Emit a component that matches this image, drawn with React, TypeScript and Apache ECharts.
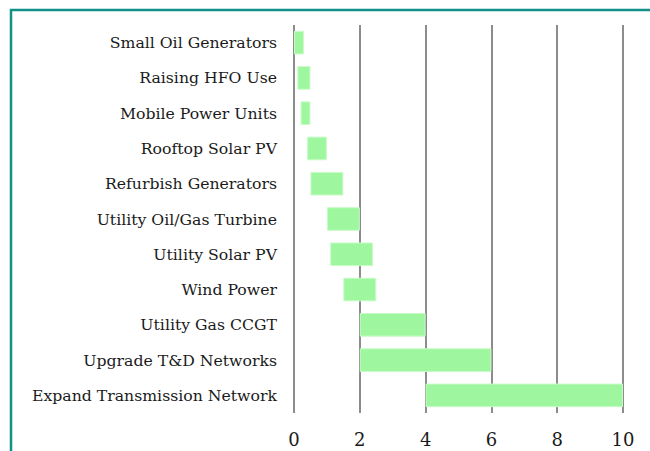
import React, { useEffect, useRef } from "react";
import * as echarts from "echarts";

const categories = [
  "Small Oil Generators",
  "Raising HFO Use",
  "Mobile Power Units",
  "Rooftop Solar PV",
  "Refurbish Generators",
  "Utility Oil/Gas Turbine",
  "Utility Solar PV",
  "Wind Power",
  "Utility Gas CCGT",
  "Upgrade T&D Networks",
  "Expand Transmission Network",
];
const lowValues = [0, 0.1, 0.2, 0.4, 0.5, 1.0, 1.1, 1.5, 2, 2, 4];
const highValues = [0.3, 0.5, 0.5, 1.0, 1.5, 2.0, 2.4, 2.5, 4, 6, 10];
const xTicks = [0, 2, 4, 6, 8, 10];

const FONT = "'DejaVu Serif', serif";

export default function App() {
  const ref = useRef<HTMLDivElement>(null);
  useEffect(() => {
    if (!ref.current) return;
    const chart = echarts.init(ref.current, null, { renderer: "svg" });
    chart.setOption({
      animation: false,
      grid: { left: 294, right: 27, top: 25, bottom: 38, containLabel: false },
      graphic: [
        {
          type: "rect",
          shape: { x: 11, y: 10, width: 700, height: 500 },
          style: { fill: "none", stroke: "#12918a", lineWidth: 2.5 },
          silent: true,
        },
      ],
      xAxis: {
        type: "value",
        min: xTicks[0],
        max: xTicks[xTicks.length - 1],
        interval: 2,
        axisLine: { show: false },
        axisTick: { show: false },
        splitLine: { show: true, lineStyle: { color: "#8c8c8c", width: 2 } },
        axisLabel: {
          fontFamily: FONT,
          fontSize: 18,
          color: "#1a1a1a",
          margin: 17,
        },
      },
      yAxis: {
        type: "category",
        data: categories,
        inverse: true,
        axisLine: { show: false },
        axisTick: { show: false },
        axisLabel: {
          fontFamily: FONT,
          fontSize: 15.7,
          color: "#1a1a1a",
          margin: 17,
        },
      },
      series: [
        {
          type: "bar",
          stack: "range",
          data: lowValues,
          itemStyle: { color: "transparent" },
          barWidth: "67%",
          silent: true,
        },
        {
          type: "bar",
          stack: "range",
          data: highValues.map((h, i) => +(h - lowValues[i]).toFixed(3)),
          itemStyle: { color: "#9ef79e", borderColor: "#c8fbc8", borderWidth: 1 },
          barWidth: "67%",
        },
      ],
    });
    return () => chart.dispose();
  }, []);
  return (
    <div
      ref={ref}
      style={{ position: "absolute", left: 0, top: 0, width: 650, height: 451, background: "#fff" }}
    />
  );
}
